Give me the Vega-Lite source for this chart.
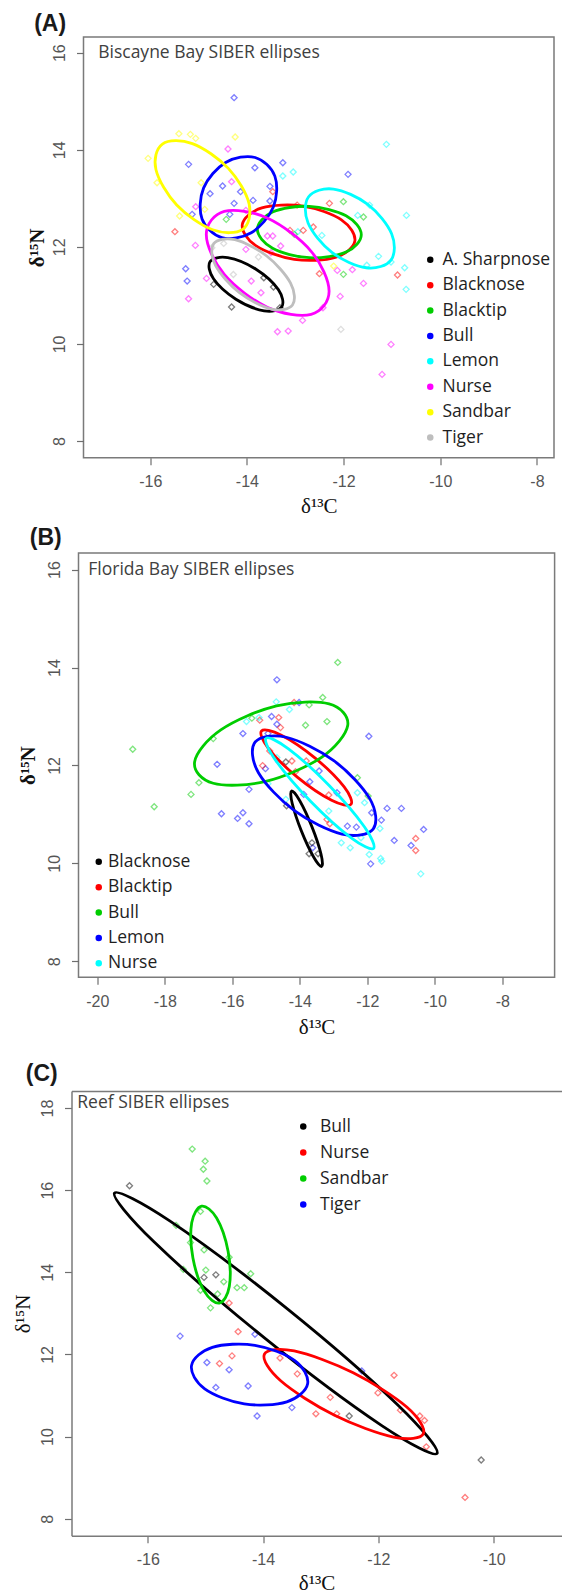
{
  "$schema": "https://vega.github.io/schema/vega-lite/v6.json",
  "padding": {"left": 3.5, "top": 11, "right": 0, "bottom": 0},
  "datasets": {
    "ptsA": [
      {"sp":"Bull","x":-14.265,"y":15.073},{"sp":"Bull","x":-15.207,"y":13.699},{"sp":"Bull","x":-13.835,"y":13.63},{"sp":"Bull","x":-13.257,"y":13.733},{"sp":"Bull","x":-11.908,"y":13.493},{"sp":"Bull","x":-14.503,"y":13.253},{"sp":"Bull","x":-14.762,"y":13.095},{"sp":"Bull","x":-14.132,"y":13.136},{"sp":"Bull","x":-13.524,"y":13.246},{"sp":"Bull","x":-13.873,"y":12.957},{"sp":"Bull","x":-13.524,"y":12.944},{"sp":"Bull","x":-14.265,"y":12.896},{"sp":"Bull","x":-15.133,"y":12.669},{"sp":"Bull","x":-14.354,"y":12.669},{"sp":"Bull","x":-15.266,"y":11.549},{"sp":"Bull","x":-15.236,"y":11.295},
      {"sp":"Nurse","x":-14.391,"y":14.015},{"sp":"Nurse","x":-14.317,"y":13.342},{"sp":"Nurse","x":-15.059,"y":12.827},{"sp":"Nurse","x":-14.021,"y":12.751},{"sp":"Nurse","x":-13.576,"y":12.223},{"sp":"Nurse","x":-13.465,"y":12.223},{"sp":"Nurse","x":-13.302,"y":12.017},{"sp":"Nurse","x":-14.021,"y":11.948},{"sp":"Nurse","x":-13.502,"y":11.879},{"sp":"Nurse","x":-15.066,"y":12.03},{"sp":"Nurse","x":-14.836,"y":11.35},{"sp":"Nurse","x":-13.91,"y":11.295},{"sp":"Nurse","x":-13.709,"y":11.055},{"sp":"Nurse","x":-15.207,"y":10.931},{"sp":"Nurse","x":-12.13,"y":11.515},{"sp":"Nurse","x":-11.589,"y":11.247},{"sp":"Nurse","x":-12.071,"y":10.979},{"sp":"Nurse","x":-12.849,"y":10.485},{"sp":"Nurse","x":-13.368,"y":10.251},{"sp":"Nurse","x":-13.146,"y":10.265},{"sp":"Nurse","x":-11.019,"y":9.99},{"sp":"Nurse","x":-11.204,"y":9.372},{"sp":"Nurse","x":-12.427,"y":10.746},{"sp":"Nurse","x":-11.819,"y":11.529},
      {"sp":"Sandbar","x":-15.407,"y":14.331},{"sp":"Sandbar","x":-15.17,"y":14.317},{"sp":"Sandbar","x":-15.059,"y":14.235},{"sp":"Sandbar","x":-14.243,"y":14.262},{"sp":"Sandbar","x":-16.044,"y":13.823},{"sp":"Sandbar","x":-15.859,"y":13.321},{"sp":"Sandbar","x":-14.947,"y":13.321},{"sp":"Sandbar","x":-15.392,"y":12.635},{"sp":"Sandbar","x":-14.873,"y":12.772},{"sp":"Sandbar","x":-12.205,"y":11.604},
      {"sp":"Lemon","x":-11.115,"y":14.111},{"sp":"Lemon","x":-13.042,"y":13.541},{"sp":"Lemon","x":-13.257,"y":13.459},{"sp":"Lemon","x":-11.463,"y":12.861},{"sp":"Lemon","x":-11.708,"y":12.648},{"sp":"Lemon","x":-10.7,"y":12.648},{"sp":"Lemon","x":-12.449,"y":12.236},{"sp":"Lemon","x":-12.946,"y":12.312},{"sp":"Lemon","x":-11.278,"y":11.804},{"sp":"Lemon","x":-11.019,"y":11.687},{"sp":"Lemon","x":-10.737,"y":11.57},{"sp":"Lemon","x":-10.707,"y":11.124},{"sp":"Lemon","x":-11.52,"y":11.62},
      {"sp":"Blacknose","x":-15.489,"y":12.312},{"sp":"Blacknose","x":-13.465,"y":13.136},{"sp":"Blacknose","x":-12.294,"y":12.896},{"sp":"Blacknose","x":-12.961,"y":12.861},{"sp":"Blacknose","x":-13.109,"y":12.339},{"sp":"Blacknose","x":-12.835,"y":12.339},{"sp":"Blacknose","x":-12.627,"y":12.408},{"sp":"Blacknose","x":-10.885,"y":11.419},{"sp":"Blacknose","x":-12.501,"y":11.447},
      {"sp":"Blacktip","x":-12.004,"y":12.93},{"sp":"Blacktip","x":-11.589,"y":12.614},{"sp":"Blacktip","x":-14.428,"y":12.566},{"sp":"Blacktip","x":-13.02,"y":12.257},{"sp":"Blacktip","x":-12.004,"y":11.433},
      {"sp":"A. Sharpnose","x":-14.317,"y":10.76},{"sp":"A. Sharpnose","x":-13.65,"y":11.364},{"sp":"A. Sharpnose","x":-13.45,"y":11.172},{"sp":"A. Sharpnose","x":-14.688,"y":11.227},{"sp":"A. Sharpnose","x":-13.317,"y":10.746},
      {"sp":"Tiger","x":-13.761,"y":11.79},{"sp":"Tiger","x":-12.056,"y":10.299},{"sp":"Tiger","x":-14.725,"y":11.982},{"sp":"Tiger","x":-14.48,"y":12.07},{"sp":"Tiger","x":-14.28,"y":11.43}
    ],
    "ellA": [
      {"sp":"A. Sharpnose","i":0,"x":-13.279,"y":10.763},{"sp":"A. Sharpnose","i":1,"x":-13.643,"y":10.682},{"sp":"A. Sharpnose","i":2,"x":-14.228,"y":10.921},{"sp":"A. Sharpnose","i":3,"x":-14.691,"y":11.342},{"sp":"A. Sharpnose","i":4,"x":-14.761,"y":11.697},{"sp":"A. Sharpnose","i":5,"x":-14.397,"y":11.778},{"sp":"A. Sharpnose","i":6,"x":-13.812,"y":11.539},{"sp":"A. Sharpnose","i":7,"x":-13.349,"y":11.118},
      {"sp":"Blacknose","i":0,"x":-11.767,"y":12.119},{"sp":"Blacknose","i":1,"x":-12.171,"y":11.781},{"sp":"Blacknose","i":2,"x":-13.02,"y":11.742},{"sp":"Blacknose","i":3,"x":-13.817,"y":12.025},{"sp":"Blacknose","i":4,"x":-14.095,"y":12.463},{"sp":"Blacknose","i":5,"x":-13.691,"y":12.801},{"sp":"Blacknose","i":6,"x":-12.842,"y":12.84},{"sp":"Blacknose","i":7,"x":-12.045,"y":12.557},
      {"sp":"Blacktip","i":0,"x":-11.634,"y":12.25},{"sp":"Blacktip","i":1,"x":-11.949,"y":11.892},{"sp":"Blacktip","i":2,"x":-12.709,"y":11.776},{"sp":"Blacktip","i":3,"x":-13.469,"y":11.97},{"sp":"Blacktip","i":4,"x":-13.784,"y":12.36},{"sp":"Blacktip","i":5,"x":-13.469,"y":12.718},{"sp":"Blacktip","i":6,"x":-12.709,"y":12.834},{"sp":"Blacktip","i":7,"x":-11.949,"y":12.64},
      {"sp":"Bull","i":0,"x":-13.83,"y":13.84},{"sp":"Bull","i":1,"x":-13.422,"y":13.457},{"sp":"Bull","i":2,"x":-13.455,"y":12.815},{"sp":"Bull","i":3,"x":-13.91,"y":12.291},{"sp":"Bull","i":4,"x":-14.52,"y":12.19},{"sp":"Bull","i":5,"x":-14.928,"y":12.573},{"sp":"Bull","i":6,"x":-14.895,"y":13.215},{"sp":"Bull","i":7,"x":-14.44,"y":13.739},
      {"sp":"Lemon","i":0,"x":-11.019,"y":11.728},{"sp":"Lemon","i":1,"x":-11.531,"y":11.569},{"sp":"Lemon","i":2,"x":-12.242,"y":11.885},{"sp":"Lemon","i":3,"x":-12.735,"y":12.491},{"sp":"Lemon","i":4,"x":-12.723,"y":13.032},{"sp":"Lemon","i":5,"x":-12.211,"y":13.191},{"sp":"Lemon","i":6,"x":-11.5,"y":12.875},{"sp":"Lemon","i":7,"x":-11.007,"y":12.269},
      {"sp":"Nurse","i":0,"x":-12.3,"y":11.087},{"sp":"Nurse","i":1,"x":-12.672,"y":10.608},{"sp":"Nurse","i":2,"x":-13.57,"y":10.751},{"sp":"Nurse","i":3,"x":-14.468,"y":11.432},{"sp":"Nurse","i":4,"x":-14.84,"y":12.253},{"sp":"Nurse","i":5,"x":-14.468,"y":12.732},{"sp":"Nurse","i":6,"x":-13.57,"y":12.589},{"sp":"Nurse","i":7,"x":-12.672,"y":11.908},
      {"sp":"Sandbar","i":0,"x":-14.088,"y":12.36},{"sp":"Sandbar","i":1,"x":-14.708,"y":12.351},{"sp":"Sandbar","i":2,"x":-15.452,"y":12.861},{"sp":"Sandbar","i":3,"x":-15.882,"y":13.593},{"sp":"Sandbar","i":4,"x":-15.748,"y":14.118},{"sp":"Sandbar","i":5,"x":-15.128,"y":14.127},{"sp":"Sandbar","i":6,"x":-14.384,"y":13.617},{"sp":"Sandbar","i":7,"x":-13.954,"y":12.885},
      {"sp":"Tiger","i":0,"x":-13.057,"y":10.801},{"sp":"Tiger","i":1,"x":-13.495,"y":10.719},{"sp":"Tiger","i":2,"x":-14.154,"y":11.055},{"sp":"Tiger","i":3,"x":-14.647,"y":11.613},{"sp":"Tiger","i":4,"x":-14.687,"y":12.065},{"sp":"Tiger","i":5,"x":-14.249,"y":12.147},{"sp":"Tiger","i":6,"x":-13.59,"y":11.811},{"sp":"Tiger","i":7,"x":-13.097,"y":11.253}
    ],
    "ptsB": [
      {"sp":"Bull","x":-12.876,"y":14.104},{"sp":"Bull","x":-13.321,"y":13.387},{"sp":"Bull","x":-13.724,"y":13.237},{"sp":"Bull","x":-15.42,"y":12.965},{"sp":"Bull","x":-13.83,"y":12.821},{"sp":"Bull","x":-13.194,"y":12.896},{"sp":"Bull","x":-16.565,"y":12.548},{"sp":"Bull","x":-18.95,"y":12.33},{"sp":"Bull","x":-16.989,"y":11.648},{"sp":"Bull","x":-17.223,"y":11.409},{"sp":"Bull","x":-18.314,"y":11.157},{"sp":"Bull","x":-11.975,"y":11.375},{"sp":"Bull","x":-12.293,"y":11.75},
      {"sp":"Lemon","x":-14.678,"y":13.749},{"sp":"Lemon","x":-14.021,"y":13.285},{"sp":"Lemon","x":-14.837,"y":12.999},{"sp":"Lemon","x":-15.685,"y":12.651},{"sp":"Lemon","x":-14.678,"y":12.842},{"sp":"Lemon","x":-14.943,"y":12.651},{"sp":"Lemon","x":-16.449,"y":12.023},{"sp":"Lemon","x":-11.954,"y":12.596},{"sp":"Lemon","x":-15.017,"y":11.934},{"sp":"Lemon","x":-15.505,"y":11.512},{"sp":"Lemon","x":-13.703,"y":11.668},{"sp":"Lemon","x":-13.427,"y":11.887},{"sp":"Lemon","x":-12.897,"y":11.443},{"sp":"Lemon","x":-16.321,"y":11.014},{"sp":"Lemon","x":-15.685,"y":11.034},{"sp":"Lemon","x":-15.844,"y":10.918},{"sp":"Lemon","x":-15.505,"y":10.809},{"sp":"Lemon","x":-12.59,"y":10.761},{"sp":"Lemon","x":-12.325,"y":10.741},{"sp":"Lemon","x":-11.583,"y":10.884},{"sp":"Lemon","x":-11.413,"y":11.123},{"sp":"Lemon","x":-10.989,"y":11.123},{"sp":"Lemon","x":-11.201,"y":10.468},{"sp":"Lemon","x":-10.703,"y":10.366},{"sp":"Lemon","x":-10.332,"y":10.693},{"sp":"Lemon","x":-11.901,"y":9.99},{"sp":"Lemon","x":-13.618,"y":10.318},{"sp":"Lemon","x":-11.869,"y":11.034},{"sp":"Lemon","x":-13.883,"y":11.409},
      {"sp":"Blacktip","x":-14.169,"y":13.285},{"sp":"Blacktip","x":-14.625,"y":12.978},{"sp":"Blacktip","x":-15.187,"y":12.924},{"sp":"Blacktip","x":-14.572,"y":12.773},{"sp":"Blacktip","x":-14.233,"y":12.091},{"sp":"Blacktip","x":-13.809,"y":12.091},{"sp":"Blacktip","x":-14.127,"y":11.873},{"sp":"Blacktip","x":-15.102,"y":11.997},{"sp":"Blacktip","x":-13.141,"y":11.396},{"sp":"Blacktip","x":-13.194,"y":10.898},{"sp":"Blacktip","x":-13.109,"y":10.809},{"sp":"Blacktip","x":-10.565,"y":10.509},{"sp":"Blacktip","x":-10.565,"y":10.263},{"sp":"Blacktip","x":-14.89,"y":12.296},
      {"sp":"Nurse","x":-14.699,"y":13.299},{"sp":"Nurse","x":-14.307,"y":13.142},{"sp":"Nurse","x":-15.579,"y":12.896},{"sp":"Nurse","x":-15.208,"y":12.978},{"sp":"Nurse","x":-14.678,"y":12.16},{"sp":"Nurse","x":-14.943,"y":11.628},{"sp":"Nurse","x":-14.413,"y":11.307},{"sp":"Nurse","x":-13.141,"y":11.068},{"sp":"Nurse","x":-12.293,"y":11.443},{"sp":"Nurse","x":-12.081,"y":11.239},{"sp":"Nurse","x":-11.625,"y":10.713},{"sp":"Nurse","x":-12.187,"y":10.522},{"sp":"Nurse","x":-12.77,"y":10.42},{"sp":"Nurse","x":-12.505,"y":10.318},{"sp":"Nurse","x":-11.943,"y":10.181},{"sp":"Nurse","x":-11.604,"y":10.1},{"sp":"Nurse","x":-11.572,"y":10.045},{"sp":"Nurse","x":-10.416,"y":9.786},
      {"sp":"Blacknose","x":-14.413,"y":12.071},{"sp":"Blacknose","x":-14.392,"y":11.177},{"sp":"Blacknose","x":-13.639,"y":10.42},{"sp":"Blacknose","x":-13.724,"y":10.195},{"sp":"Blacknose","x":-13.459,"y":10.195}
    ],
    "ellB": [
      {"sp":"Blacknose","i":0,"x":-13.353,"y":9.936},{"sp":"Blacknose","i":1,"x":-13.595,"y":10.135},{"sp":"Blacknose","i":2,"x":-13.957,"y":10.669},{"sp":"Blacknose","i":3,"x":-14.225,"y":11.225},{"sp":"Blacknose","i":4,"x":-14.243,"y":11.478},{"sp":"Blacknose","i":5,"x":-14.001,"y":11.279},{"sp":"Blacknose","i":6,"x":-13.639,"y":10.745},{"sp":"Blacknose","i":7,"x":-13.371,"y":10.189},
      {"sp":"Blacktip","i":0,"x":-12.484,"y":11.205},{"sp":"Blacktip","i":1,"x":-13.059,"y":11.288},{"sp":"Blacktip","i":2,"x":-14.074,"y":11.761},{"sp":"Blacktip","i":3,"x":-14.933,"y":12.348},{"sp":"Blacktip","i":4,"x":-15.134,"y":12.705},{"sp":"Blacktip","i":5,"x":-14.559,"y":12.622},{"sp":"Blacktip","i":6,"x":-13.544,"y":12.149},{"sp":"Blacktip","i":7,"x":-12.685,"y":11.562},
      {"sp":"Bull","i":0,"x":-12.579,"y":12.821},{"sp":"Bull","i":1,"x":-13.356,"y":12.166},{"sp":"Bull","i":2,"x":-15.007,"y":11.675},{"sp":"Bull","i":3,"x":-16.564,"y":11.636},{"sp":"Bull","i":4,"x":-17.117,"y":12.071},{"sp":"Bull","i":5,"x":-16.34,"y":12.726},{"sp":"Bull","i":6,"x":-14.689,"y":13.217},{"sp":"Bull","i":7,"x":-13.132,"y":13.256},
      {"sp":"Lemon","i":0,"x":-11.827,"y":10.7},{"sp":"Lemon","i":1,"x":-12.751,"y":10.598},{"sp":"Lemon","i":2,"x":-14.159,"y":11.075},{"sp":"Lemon","i":3,"x":-15.225,"y":11.852},{"sp":"Lemon","i":4,"x":-15.325,"y":12.474},{"sp":"Lemon","i":5,"x":-14.401,"y":12.576},{"sp":"Lemon","i":6,"x":-12.993,"y":12.099},{"sp":"Lemon","i":7,"x":-11.927,"y":11.322},
      {"sp":"Nurse","i":0,"x":-11.816,"y":10.304},{"sp":"Nurse","i":1,"x":-12.477,"y":10.521},{"sp":"Nurse","i":2,"x":-13.682,"y":11.27},{"sp":"Nurse","i":3,"x":-14.725,"y":12.113},{"sp":"Nurse","i":4,"x":-14.996,"y":12.556},{"sp":"Nurse","i":5,"x":-14.335,"y":12.339},{"sp":"Nurse","i":6,"x":-13.13,"y":11.59},{"sp":"Nurse","i":7,"x":-12.087,"y":10.747}
    ],
    "ptsC": [
      {"sp":"Sandbar","x":-15.229,"y":17.0},{"sp":"Sandbar","x":-15.005,"y":16.705},{"sp":"Sandbar","x":-15.036,"y":16.509},{"sp":"Sandbar","x":-14.974,"y":16.223},{"sp":"Sandbar","x":-15.509,"y":15.143},{"sp":"Sandbar","x":-15.086,"y":15.482},{"sp":"Sandbar","x":-15.26,"y":14.723},{"sp":"Sandbar","x":-15.024,"y":14.545},{"sp":"Sandbar","x":-15.384,"y":14.071},{"sp":"Sandbar","x":-14.993,"y":14.054},{"sp":"Sandbar","x":-15.086,"y":13.563},{"sp":"Sandbar","x":-14.788,"y":13.473},{"sp":"Sandbar","x":-14.682,"y":13.768},{"sp":"Sandbar","x":-14.452,"y":13.625},{"sp":"Sandbar","x":-14.327,"y":13.625},{"sp":"Sandbar","x":-14.912,"y":13.134},{"sp":"Sandbar","x":-14.215,"y":13.964},{"sp":"Sandbar","x":-14.589,"y":14.366},
      {"sp":"Bull","x":-16.317,"y":16.107},{"sp":"Bull","x":-14.819,"y":13.938},{"sp":"Bull","x":-15.024,"y":13.875},{"sp":"Bull","x":-12.506,"y":10.5},{"sp":"Bull","x":-10.217,"y":9.429},
      {"sp":"Nurse","x":-14.589,"y":13.25},{"sp":"Nurse","x":-14.433,"y":12.554},{"sp":"Nurse","x":-14.539,"y":11.964},{"sp":"Nurse","x":-14.756,"y":11.777},{"sp":"Nurse","x":-13.706,"y":11.911},{"sp":"Nurse","x":-13.407,"y":11.527},{"sp":"Nurse","x":-12.835,"y":10.955},{"sp":"Nurse","x":-12.008,"y":11.063},{"sp":"Nurse","x":-11.728,"y":11.491},{"sp":"Nurse","x":-11.617,"y":10.643},{"sp":"Nurse","x":-11.281,"y":10.5},{"sp":"Nurse","x":-11.2,"y":10.393},{"sp":"Nurse","x":-11.169,"y":9.75},{"sp":"Nurse","x":-13.084,"y":10.554},{"sp":"Nurse","x":-12.723,"y":10.554},{"sp":"Nurse","x":-10.497,"y":8.518},
      {"sp":"Tiger","x":-15.44,"y":12.446},{"sp":"Tiger","x":-14.974,"y":11.804},{"sp":"Tiger","x":-14.589,"y":11.625},{"sp":"Tiger","x":-14.819,"y":11.196},{"sp":"Tiger","x":-14.259,"y":11.232},{"sp":"Tiger","x":-14.104,"y":10.5},{"sp":"Tiger","x":-13.5,"y":10.705},{"sp":"Tiger","x":-14.141,"y":12.491},{"sp":"Tiger","x":-12.288,"y":11.598}
    ],
    "ellC": [
      {"sp":"Bull","i":0,"x":-10.982,"y":9.589},{"sp":"Bull","i":1,"x":-11.941,"y":10.266},{"sp":"Bull","i":2,"x":-13.976,"y":12.402},{"sp":"Bull","i":3,"x":-15.897,"y":14.748},{"sp":"Bull","i":4,"x":-16.578,"y":15.929},{"sp":"Bull","i":5,"x":-15.619,"y":15.252},{"sp":"Bull","i":6,"x":-13.584,"y":13.116},{"sp":"Bull","i":7,"x":-11.663,"y":10.77},
      {"sp":"Nurse","i":0,"x":-11.219,"y":10.072},{"sp":"Nurse","i":1,"x":-11.738,"y":9.988},{"sp":"Nurse","i":2,"x":-12.761,"y":10.518},{"sp":"Nurse","i":3,"x":-13.69,"y":11.352},{"sp":"Nurse","i":4,"x":-13.979,"y":12.0},{"sp":"Nurse","i":5,"x":-13.46,"y":12.084},{"sp":"Nurse","i":6,"x":-12.437,"y":11.554},{"sp":"Nurse","i":7,"x":-11.508,"y":10.72},
      {"sp":"Sandbar","i":0,"x":-14.757,"y":13.25},{"sp":"Sandbar","i":1,"x":-15.018,"y":13.536},{"sp":"Sandbar","i":2,"x":-15.217,"y":14.346},{"sp":"Sandbar","i":3,"x":-15.238,"y":15.204},{"sp":"Sandbar","i":4,"x":-15.067,"y":15.608},{"sp":"Sandbar","i":5,"x":-14.806,"y":15.322},{"sp":"Sandbar","i":6,"x":-14.607,"y":14.512},{"sp":"Sandbar","i":7,"x":-14.586,"y":13.654},
      {"sp":"Tiger","i":0,"x":-13.227,"y":11.286},{"sp":"Tiger","i":1,"x":-13.588,"y":10.846},{"sp":"Tiger","i":2,"x":-14.327,"y":10.795},{"sp":"Tiger","i":3,"x":-15.012,"y":11.162},{"sp":"Tiger","i":4,"x":-15.241,"y":11.732},{"sp":"Tiger","i":5,"x":-14.88,"y":12.172},{"sp":"Tiger","i":6,"x":-14.141,"y":12.223},{"sp":"Tiger","i":7,"x":-13.456,"y":11.856}
    ]
  },
  "vconcat": [
    {
      "hconcat": [
        {"width": 21, "height": 489, "data": {"values": [{}]}, "mark": {"type": "point", "opacity": 0}, "view": {"stroke": null}},
        {
          "width": 470.5, "height": 420.7,
          "title": {"text": "(A)", "dx": -49.3, "offset": 1.3},
          "encoding": {
            "y": {"field": "y", "type": "quantitative", "scale": {"domain": [7.656, 16.323], "nice": false, "zero": false},
                  "axis": {"values": [8, 10, 12, 14, 16], "title": "δ¹⁵N", "titleX": -46.3, "titleBaseline": "middle", "titleFontWeight": "bold"}}
          },
          "layer": [
            {
              "data": {"name": "ptsA"},
              "mark": {"type": "point", "shape": "diamond", "filled": false, "size": 36, "strokeWidth": 1.3, "opacity": 0.5},
              "encoding": {
                "x": {"field": "x", "type": "quantitative", "scale": {"domain": [-17.38, -7.648], "nice": false, "zero": false},
                      "axis": {"values": [-16, -14, -12, -10, -8], "labelExpr": "(datum.value < 0 ? '-' : '') + abs(datum.value)", "title": "δ¹³C", "titleY": 48.3, "titleBaseline": "middle"}},
                "stroke": {"field": "sp", "type": "nominal", "legend": null,
                           "scale": {"domain": ["Tiger","Sandbar","Nurse","Lemon","Bull","Blacktip","Blacknose","A. Sharpnose"], "range": ["#bebebe","#ffff00","#ff00ff","#00ffff","#0000ff","#00cd00","#ff0000","#000000"]}}
              }
            },
            {
              "data": {"name": "ellA"},
              "mark": {"type": "line", "interpolate": "cardinal-closed", "strokeWidth": 2.8},
              "encoding": {
                "x": {"field": "x", "type": "quantitative", "scale": {"domain": [-17.38, -7.648], "nice": false, "zero": false},
                      "axis": {"orient": "top", "labels": false, "ticks": false, "domain": false, "title": "Biscayne Bay SIBER ellipses", "titleX": 14.2, "titleY": 15.7, "titleAlign": "left", "titleBaseline": "middle", "titleFont": "Open Sans", "titleFontSize": 17.5, "titleColor": "#404040"}},
                "stroke": {"field": "sp", "type": "nominal", "legend": null,
                           "scale": {"domain": ["Tiger","Sandbar","Nurse","Lemon","Bull","Blacktip","Blacknose","A. Sharpnose"], "range": ["#bebebe","#ffff00","#ff00ff","#00ffff","#0000ff","#00cd00","#ff0000","#000000"]}},
                "order": {"field": "i", "type": "quantitative"}
              }
            },
            {
              "data": {"name": "ptsA"},
              "transform": [{"filter": "false"}],
              "mark": {"type": "point", "shape": "circle", "filled": true, "size": 40},
              "encoding": {
                "x": {"field": "x", "type": "quantitative", "scale": {"domain": [-17.38, -7.648], "nice": false, "zero": false}, "axis": null},
                "color": {"field": "sp", "type": "nominal",
                          "scale": {"domain": ["A. Sharpnose","Blacknose","Blacktip","Bull","Lemon","Nurse","Sandbar","Tiger"], "range": ["#000000","#ff0000","#00cd00","#0000ff","#00ffff","#ff00ff","#ffff00","#bebebe"]},
                          "legend": {"title": null, "legendX": 338, "legendY": 214, "labelOffset": 3.5, "rowPadding": 6.4}}
              }
            }
          ],
          "resolve": {"axis": {"x": "independent"}}
        }
      ],
      "spacing": 0, "align": "none",
      "resolve": {"scale": {"x": "independent", "y": "independent", "color": "independent", "stroke": "independent"}, "legend": {"color": "independent"}}
    },
    {
      "hconcat": [
        {"width": 13, "height": 510, "data": {"values": [{}]}, "mark": {"type": "point", "opacity": 0}, "view": {"stroke": null}},
        {
          "width": 476.1, "height": 424.3,
          "title": {"text": "(B)", "dx": -48.7, "offset": 3},
          "encoding": {
            "y": {"field": "y", "type": "quantitative", "scale": {"domain": [7.673, 16.339], "nice": false, "zero": false},
                  "axis": {"values": [8, 10, 12, 14, 16], "title": "δ¹⁵N", "titleX": -49.7, "titleBaseline": "middle", "titleFontWeight": "bold"}}
          },
          "layer": [
            {
              "data": {"name": "ptsB"},
              "mark": {"type": "point", "shape": "diamond", "filled": false, "size": 36, "strokeWidth": 1.3, "opacity": 0.5},
              "encoding": {
                "x": {"field": "x", "type": "quantitative", "scale": {"domain": [-20.557, -6.45], "nice": false, "zero": false},
                      "axis": {"values": [-20, -18, -16, -14, -12, -10, -8], "labelExpr": "(datum.value < 0 ? '-' : '') + abs(datum.value)", "title": "δ¹³C", "titleY": 50, "titleBaseline": "middle"}},
                "stroke": {"field": "sp", "type": "nominal", "legend": null,
                           "scale": {"domain": ["Nurse","Lemon","Bull","Blacktip","Blacknose"], "range": ["#00ffff","#0000ff","#00cd00","#ff0000","#000000"]}}
              }
            },
            {
              "data": {"name": "ellB"},
              "mark": {"type": "line", "interpolate": "cardinal-closed", "strokeWidth": 2.8},
              "encoding": {
                "x": {"field": "x", "type": "quantitative", "scale": {"domain": [-20.557, -6.45], "nice": false, "zero": false},
                      "axis": {"orient": "top", "labels": false, "ticks": false, "domain": false, "title": "Florida Bay SIBER ellipses", "titleX": 9.3, "titleY": 16, "titleAlign": "left", "titleBaseline": "middle", "titleFont": "Open Sans", "titleFontSize": 17.5, "titleColor": "#404040"}},
                "stroke": {"field": "sp", "type": "nominal", "legend": null,
                           "scale": {"domain": ["Nurse","Lemon","Bull","Blacktip","Blacknose"], "range": ["#00ffff","#0000ff","#00cd00","#ff0000","#000000"]}},
                "order": {"field": "i", "type": "quantitative"}
              }
            },
            {
              "data": {"name": "ptsB"},
              "transform": [{"filter": "false"}],
              "mark": {"type": "point", "shape": "circle", "filled": true, "size": 40},
              "encoding": {
                "x": {"field": "x", "type": "quantitative", "scale": {"domain": [-20.557, -6.45], "nice": false, "zero": false}, "axis": null},
                "color": {"field": "sp", "type": "nominal",
                          "scale": {"domain": ["Blacknose","Blacktip","Bull","Lemon","Nurse"], "range": ["#000000","#ff0000","#00cd00","#0000ff","#00ffff"]},
                          "legend": {"title": null, "legendX": 11.5, "legendY": 300, "labelOffset": 0.5, "rowPadding": 6.4}}
              }
            }
          ],
          "resolve": {"axis": {"x": "independent"}}
        }
      ],
      "spacing": 0, "align": "none",
      "resolve": {"scale": {"x": "independent", "y": "independent", "color": "independent", "stroke": "independent"}, "legend": {"color": "independent"}}
    },
    {
      "hconcat": [
        {"width": 9, "height": 1, "data": {"values": [{}]}, "mark": {"type": "point", "opacity": 0}, "view": {"stroke": null}},
        {
          "width": 490, "height": 444.7,
          "view": {"stroke": null},
          "title": {"text": "(C)", "dx": -45.7, "offset": 4.8},
          "encoding": {
            "y": {"field": "y", "type": "quantitative", "scale": {"domain": [7.586, 18.414], "nice": false, "zero": false},
                  "axis": {"values": [8, 10, 12, 14, 16, 18], "title": "δ¹⁵N", "titleX": -47.7, "titleBaseline": "middle", "domain": true}}
          },
          "layer": [
            {
              "data": {"name": "ptsC"},
              "mark": {"type": "point", "shape": "diamond", "filled": false, "size": 36, "strokeWidth": 1.3, "opacity": 0.5},
              "encoding": {
                "x": {"field": "x", "type": "quantitative", "scale": {"domain": [-17.323, -8.824], "nice": false, "zero": false},
                      "axis": {"values": [-16, -14, -12, -10], "labelExpr": "(datum.value < 0 ? '-' : '') + abs(datum.value)", "title": "δ¹³C", "titleY": 47.7, "titleBaseline": "middle", "domain": true}},
                "stroke": {"field": "sp", "type": "nominal", "legend": null,
                           "scale": {"domain": ["Tiger","Sandbar","Nurse","Bull"], "range": ["#0000ff","#00cd00","#ff0000","#000000"]}}
              }
            },
            {
              "data": {"name": "ellC"},
              "mark": {"type": "line", "interpolate": "cardinal-closed", "strokeWidth": 2.8},
              "encoding": {
                "x": {"field": "x", "type": "quantitative", "scale": {"domain": [-17.323, -8.824], "nice": false, "zero": false},
                      "axis": {"orient": "top", "labels": false, "ticks": false, "domain": true, "title": "Reef SIBER ellipses", "titleX": 5.3, "titleY": 11.2, "titleAlign": "left", "titleBaseline": "middle", "titleFont": "Open Sans", "titleFontSize": 17.5, "titleColor": "#404040"}},
                "stroke": {"field": "sp", "type": "nominal", "legend": null,
                           "scale": {"domain": ["Tiger","Sandbar","Nurse","Bull"], "range": ["#0000ff","#00cd00","#ff0000","#000000"]}},
                "order": {"field": "i", "type": "quantitative"}
              }
            },
            {
              "data": {"name": "ptsC"},
              "transform": [{"filter": "false"}],
              "mark": {"type": "point", "shape": "circle", "filled": true, "size": 40},
              "encoding": {
                "x": {"field": "x", "type": "quantitative", "scale": {"domain": [-17.323, -8.824], "nice": false, "zero": false}, "axis": null},
                "color": {"field": "sp", "type": "nominal",
                          "scale": {"domain": ["Bull","Nurse","Sandbar","Tiger"], "range": ["#000000","#ff0000","#00cd00","#0000ff"]},
                          "legend": {"title": null, "legendX": 223, "legendY": 26.8, "labelOffset": 8, "rowPadding": 7}}
              }
            }
          ],
          "resolve": {"axis": {"x": "independent"}}
        }
      ],
      "spacing": 0, "align": "none",
      "resolve": {"scale": {"x": "independent", "y": "independent", "color": "independent", "stroke": "independent"}, "legend": {"color": "independent"}}
    }
  ],
  "spacing": 0,
  "align": "none",
  "resolve": {"scale": {"x": "independent", "y": "independent", "color": "independent", "stroke": "independent"}, "legend": {"color": "independent"}},
  "config": {
    "view": {"stroke": "#7a7a7a", "strokeWidth": 1.5},
    "axis": {"grid": false, "domain": false, "tickColor": "#6e6e6e", "tickWidth": 1.2, "tickSize": 7, "labelFont": "Liberation Sans", "labelFontSize": 16, "labelColor": "#555555", "titleFont": "Liberation Serif", "titleFontSize": 21, "titleColor": "#111111", "titleFontWeight": "normal", "domainColor": "#7a7a7a", "domainWidth": 1.5, "labelFlush": false, "labelOverlap": false},
    "axisX": {"labelBaseline": "middle", "labelPadding": 17},
    "axisY": {"labelAngle": -90, "labelAlign": "center", "labelBaseline": "middle", "labelPadding": 17},
    "title": {"anchor": "start", "frame": "group", "baseline": "alphabetic", "font": "Liberation Sans", "fontSize": 23, "fontWeight": "bold", "color": "#1a1a1a"},
    "legend": {"orient": "none", "symbolType": "circle", "symbolSize": 42, "symbolOpacity": 1, "symbolStrokeWidth": 0, "labelFont": "Open Sans", "labelFontSize": 17.5, "labelColor": "#1e1e1e", "padding": 0}
  }
}
